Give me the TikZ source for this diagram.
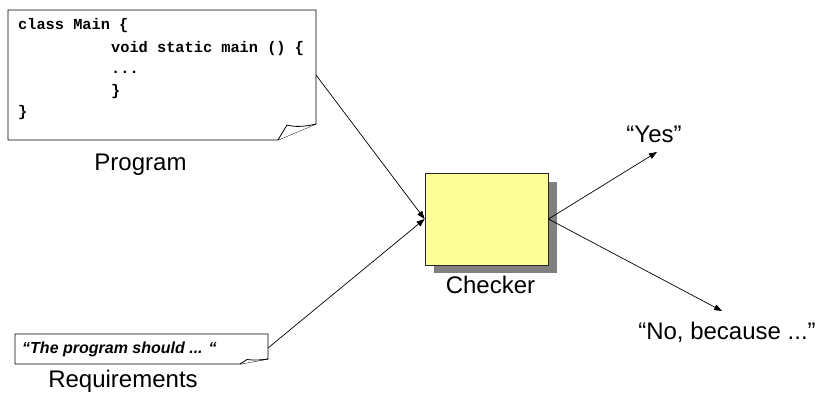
\documentclass[tikz,border=0pt]{standalone}
\usepackage{fontspec}
\setmainfont{Liberation Sans}
\newfontfamily\codefont{Liberation Mono}
\usetikzlibrary{arrows.meta}
\definecolor{checkeryellow}{HTML}{FFFF99}
\definecolor{shadowgray}{HTML}{808080}
\tikzset{
  label text/.style={font=\fontsize{24}{28}\selectfont, anchor=base, inner sep=0pt},
  code text/.style={font=\codefont\bfseries\fontsize{15.3}{18}\selectfont, anchor=base west, inner sep=0pt},
  req text/.style={font=\bfseries\itshape\fontsize{16}{19}\selectfont, anchor=base west, inner sep=0pt},
  doc/.style={draw=black, line width=0.8pt, fill=white, line join=miter},
  conn/.style={draw=black, line width=0.7pt, -{Triangle[length=8pt,width=6pt]}},
  checkbox/.style={draw=black!85, line width=0.8pt, fill=checkeryellow, minimum width=123pt, minimum height=92pt, inner sep=0pt},
}
\begin{document}
\begin{tikzpicture}[x=1pt,y=-1pt]
\useasboundingbox (0,0) rectangle (819,399);

% Program document
\draw[doc] (8,10) -- (316,10) -- (316,124) -- (278,140) -- (8,140) -- cycle;
\draw[doc] (278,140) -- (287,125) .. controls (294,127) and (304,127) .. (316,124);
\node[code text] (l1) at (18,29.5) {class Main \{};
\node[code text] (l2) at (111,52) {void static main () \{};
\node[code text] (l3) at (111,73.5) {...};
\node[code text] (l4) at (111,95) {\}};
\node[code text] (l5) at (18,116.5) {\}};
\coordinate (progout) at (316,75);
\node[label text] (proglabel) at (140.5,170) {Program};

% Requirements document
\draw[doc] (15,334) -- (268,334) -- (268,359) -- (240,364) -- (15,364) -- cycle;
\draw[doc] (240,364) -- (247,359.5) .. controls (254,360.5) and (261,360) .. (268,359);
\node[req text] (reqtext) at (22,353) {“The program should ... “};
\coordinate (reqout) at (268,348);
\node[label text] (reqlabel) at (123,387) {Requirements};

% Checker
\fill[shadowgray] (434,182) rectangle (557,273);
\node[checkbox] (checker) at (486.5,219) {};
\node[label text] (checklabel) at (490.5,293) {Checker};

% Outputs
\coordinate (yestip) at (657,152);
\coordinate (notip) at (722,311);
\node[label text] (yes) at (654,142) {“Yes”};
\node[label text] (no) at (727,339) {“No, because ...”};

% Connectors
\draw[conn] (progout) -- (checker.west);
\draw[conn] (reqout) -- (checker.west);
\draw[conn] (checker.east) -- (yestip);
\draw[conn] (checker.east) -- (notip);
\end{tikzpicture}
\end{document}
